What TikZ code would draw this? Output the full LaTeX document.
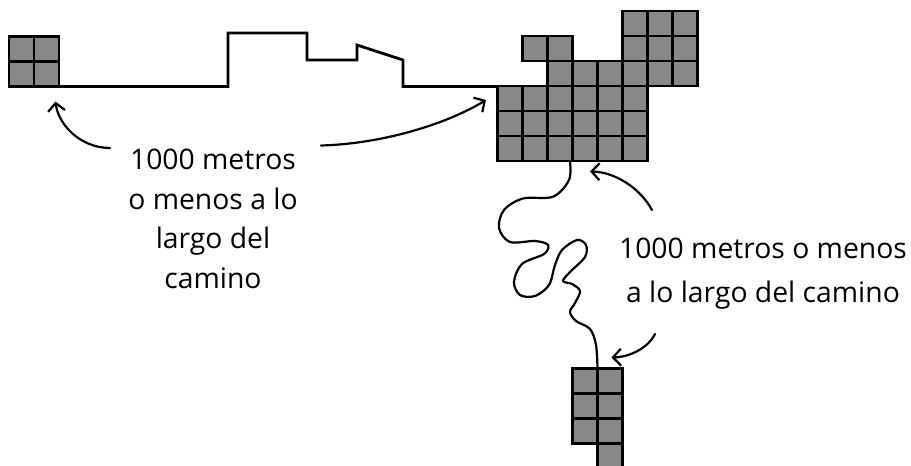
\documentclass[tikz,border=0pt]{standalone}
\usepackage{fontspec}
\setmainfont{Open Sans}
\usetikzlibrary{arrows.meta}
\definecolor{cellgray}{RGB}{136,136,136}
\begin{document}
\begin{tikzpicture}[x=1pt,y=-1pt,
  cell/.style={fill=cellgray, draw=black, line width=2.6pt},
  road/.style={draw=black, line width=2.8pt, line join=miter},
  pointer/.style={draw=black, line width=2.2pt, line cap=round,
    -{Straight Barb[length=8pt,width=17pt,line width=2.2pt]}},
  trail/.style={draw=black, line width=2.2pt},
  lbl/.style={font=\fontsize{28.3}{39.5}\selectfont, align=center, inner sep=0pt}]
\useasboundingbox (0,0) rectangle (911,466);
\clip (0,0) rectangle (911,466);
% named points
\coordinate (home) at (59,86.5);
\coordinate (mall) at (497.5,86.5);
\coordinate (mallbottom) at (570,161);
\coordinate (shop) at (597.5,368.5);
% road
\draw[road] (home) -- (228,86.5) -- (228,33) -- (307,33) -- (307,60) -- (357,60)
  -- (357,45) -- (403,60) -- (403,86.5) -- (mall);
% trail
\draw[trail] plot[smooth, tension=0.55] coordinates {
 (570,161) (569,180) (553,196.7) (523,198.5) (504,210) (499,228) (510,242)
 (535,241) (548,245) (544,254) (522,264) (514,282) (520,295) (535,296)
 (549,285) (555,265) (562,250) (577,240) (586,245) (585,257) (570,272)
 (563,281) (572,284) (580,291) (575,303) (570,312) (576,321) (590,329)
 (596,345) (597.5,368.5)};
% top-left block
\foreach \c in {0,1} \foreach \r in {0,1}
  \draw[cell] ({9+25*\c},{36.5+25*\r}) rectangle ++(25,25);
% big block
\foreach \c/\r in {5/0,6/0,7/0, 1/1,2/1,5/1,6/1,7/1, 2/2,3/2,4/2,5/2,6/2,7/2,
  0/3,1/3,2/3,3/3,4/3,5/3, 0/4,1/4,2/4,3/4,4/4,5/4, 0/5,1/5,2/5,3/5,4/5,5/5}
  \draw[cell] ({497.5+25*\c},{11+25*\r}) rectangle ++(25,25);
% bottom block
\foreach \c/\r in {0/0,1/0,0/1,1/1,0/2,1/2,1/3}
  \draw[cell] ({572.5+25*\c},{368.5+25*\r}) rectangle ++(25,25);
% labels
\node[lbl] (lefttext) at (213,219) {1000 metros\\o menos a lo\\largo del\\camino};
\node[lbl, font=\fontsize{28.3}{44}\selectfont] (righttext) at (763,274)
  {1000 metros o menos\\a lo largo del camino};
% arrows
\coordinate (a1s) at (110,148);  \coordinate (a1t) at (55.5,101.5);
\coordinate (a2s) at (321,145.5); \coordinate (a2t) at (486,100);
\coordinate (a3s) at (652,210);  \coordinate (a3t) at (590,171.5);
\coordinate (a4s) at (655,334);  \coordinate (a4t) at (611.5,357.5);
\draw[pointer] (a1s) .. controls (80,148) and (58,124) .. (a1t);
\draw[pointer] (a2s) .. controls (380,144) and (445,125) .. (a2t);
\draw[pointer] (a3s) .. controls (640,188) and (615,172) .. (a3t);
\draw[pointer] (a4s) .. controls (648,348) and (630,357) .. (a4t);
\end{tikzpicture}
\end{document}
